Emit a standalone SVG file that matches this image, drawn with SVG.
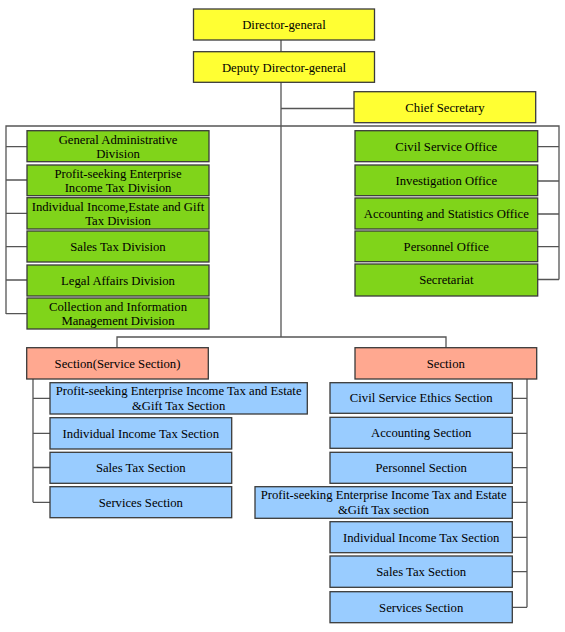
<svg xmlns="http://www.w3.org/2000/svg" width="565" height="632" viewBox="0 0 565 632">
<style>
rect{stroke:#3a3a3a;stroke-width:1.3}
.y{fill:#ffff33}
.g{fill:#80d41a}
.s{fill:#ffa890}
.b{fill:#99ccff}
text{font-size:12.7px;fill:#000;text-anchor:middle}
#connectors path{fill:none;stroke:#555;stroke-width:1.3}
</style>
<rect width="565" height="632" fill="#fff" style="stroke:none"/>
<g id="connectors">
<path d="M281 40V52M281 82V337M281 108.5H354"/>
<path d="M6 314V126H559V279.5"/>
<path d="M6 146.7H27M6 180H27M6 213.3H27M6 246.7H27M6 280H27M6 313.7H27"/>
<path d="M538 146.7H559M538 181H559M538 214H559M538 246.7H559M538 279.5H559"/>
<path d="M117 348V337H446V348"/>
<path d="M33 379V502.3M33 398.3H50M33 433.3H50M33 467.5H50M33 502.3H50"/>
<path d="M527 379V607.3M512 398.3H527M512 433.3H527M512 467.7H527M512 502.3H527M512 537.3H527M512 571.7H527M512 607.3H527"/>
</g>
<g font-family="Liberation Serif, Times New Roman, DejaVu Serif, serif">
<g id="director"><rect class="y" x="193.5" y="9" width="181" height="31"/><text x="284" y="29">Director-general</text></g>
<g id="deputy"><rect class="y" x="193.5" y="51.7" width="181" height="30.6"/><text x="284" y="71.5">Deputy Director-general</text></g>
<g id="chief"><rect class="y" x="354" y="91.7" width="181.7" height="31"/><text x="445" y="111.7">Chief Secretary</text></g>

<g id="general-admin"><rect class="g" x="27" y="130.7" width="182" height="31"/><text x="118" y="143.5">General Administrative</text><text x="118" y="158">Division</text></g>
<g id="profit-div"><rect class="g" x="27" y="165" width="182" height="30.7"/><text x="118" y="177.5">Profit-seeking Enterprise</text><text x="118" y="192">Income Tax Division</text></g>
<g id="individual-div"><rect class="g" x="27" y="197.7" width="182" height="31.3"/><text x="118" y="210.5">Individual Income,Estate and Gift</text><text x="118" y="225">Tax Division</text></g>
<g id="sales-div"><rect class="g" x="27" y="231" width="182" height="31"/><text x="118" y="250.8">Sales Tax Division</text></g>
<g id="legal-div"><rect class="g" x="27" y="265" width="182" height="31"/><text x="118" y="284.8">Legal Affairs Division</text></g>
<g id="collection-div"><rect class="g" x="27" y="298" width="182" height="31"/><text x="118" y="310.8">Collection and Information</text><text x="118" y="325.3">Management Division</text></g>

<g id="civil-office"><rect class="g" x="355" y="130.7" width="182.7" height="31"/><text x="446.3" y="150.5">Civil Service Office</text></g>
<g id="investigation-office"><rect class="g" x="355" y="165" width="182.7" height="30.7"/><text x="446.3" y="184.6">Investigation Office</text></g>
<g id="accounting-office"><rect class="g" x="355" y="198" width="182.7" height="31"/><text x="446.3" y="217.8">Accounting and Statistics Office</text></g>
<g id="personnel-office"><rect class="g" x="355" y="231" width="182.7" height="30.7"/><text x="446.3" y="250.6">Personnel Office</text></g>
<g id="secretariat"><rect class="g" x="355" y="264" width="182.7" height="32"/><text x="446.3" y="284.3">Secretariat</text></g>

<g id="section-service"><rect class="s" x="26.7" y="347.7" width="181.6" height="31.3"/><text x="117.5" y="367.6">Section(Service Section)</text></g>
<g id="section"><rect class="s" x="355" y="347.7" width="181.7" height="31.3"/><text x="445.8" y="367.6">Section</text></g>

<g id="l-profit"><rect class="b" x="50" y="382.7" width="257.3" height="31.3"/><text x="178.6" y="395.3">Profit-seeking Enterprise Income Tax and Estate</text><text x="178.6" y="409.8">&amp;Gift Tax Section</text></g>
<g id="l-individual"><rect class="b" x="50" y="417.7" width="181.7" height="31.3"/><text x="140.8" y="437.6">Individual Income Tax Section</text></g>
<g id="l-sales"><rect class="b" x="50" y="452.3" width="181.7" height="31"/><text x="140.8" y="472">Sales Tax Section</text></g>
<g id="l-services"><rect class="b" x="50" y="486.7" width="181.7" height="31"/><text x="140.8" y="506.5">Services Section</text></g>

<g id="r-ethics"><rect class="b" x="330" y="382.7" width="182.3" height="30.6"/><text x="421.2" y="402.3">Civil Service Ethics Section</text></g>
<g id="r-accounting"><rect class="b" x="330" y="417.3" width="182.3" height="31"/><text x="421.2" y="437.1">Accounting Section</text></g>
<g id="r-personnel"><rect class="b" x="330" y="452.3" width="182.3" height="31"/><text x="421.2" y="472">Personnel Section</text></g>
<g id="r-profit"><rect class="b" x="255" y="486.7" width="257.3" height="31.6"/><text x="383.6" y="499.2">Profit-seeking Enterprise Income Tax and Estate</text><text x="383.6" y="513.7">&amp;Gift Tax section</text></g>
<g id="r-individual"><rect class="b" x="330" y="521.7" width="182.3" height="31"/><text x="421.2" y="541.5">Individual Income Tax Section</text></g>
<g id="r-sales"><rect class="b" x="330" y="556" width="182.3" height="31.3"/><text x="421.2" y="575.9">Sales Tax Section</text></g>
<g id="r-services"><rect class="b" x="330" y="591.7" width="182.3" height="31"/><text x="421.2" y="611.5">Services Section</text></g>
</g>
</svg>
